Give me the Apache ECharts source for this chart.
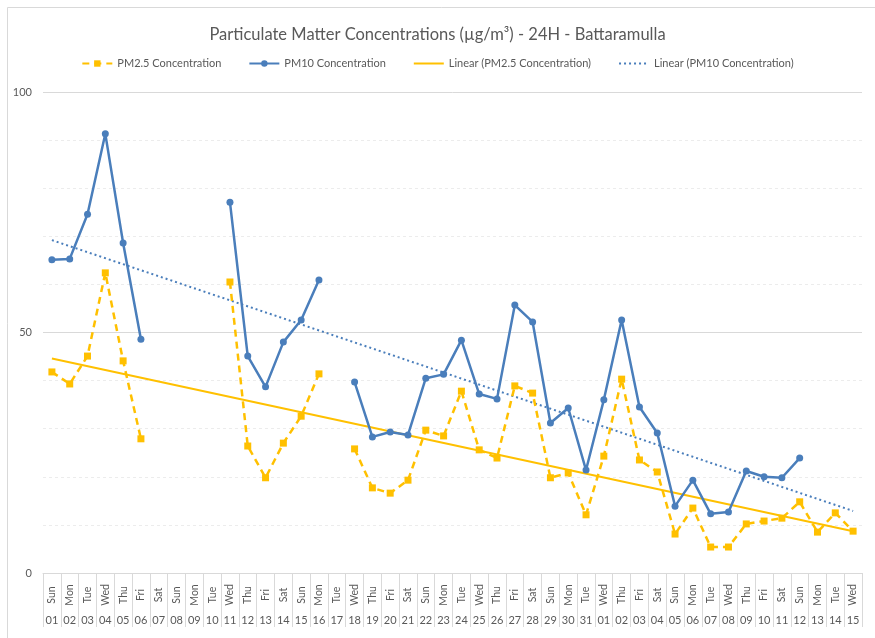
<!DOCTYPE html>
<html>
<head>
<meta charset="utf-8">
<script src="https://cdn.jsdelivr.net/npm/echarts@6/dist/echarts.min.js"></script>
<style>
    html, body { margin: 0; padding: 0; background: #fff; }
    #chart { width: 875px; height: 638px; }
</style>
</head>
<body>
<div id="chart"></div>
<script>
    // x categories: weekday row + date row
    var days = ['Sun', 'Mon', 'Tue', 'Wed', 'Thu', 'Fri', 'Sat', 'Sun', 'Mon', 'Tue', 'Wed', 'Thu', 'Fri', 'Sat',
        'Sun', 'Mon', 'Tue', 'Wed', 'Thu', 'Fri', 'Sat', 'Sun', 'Mon', 'Tue', 'Wed', 'Thu', 'Fri', 'Sat',
        'Sun', 'Mon', 'Tue', 'Wed', 'Thu', 'Fri', 'Sat', 'Sun', 'Mon', 'Tue', 'Wed', 'Thu', 'Fri', 'Sat',
        'Sun', 'Mon', 'Tue', 'Wed'];
    var dates = ['01', '02', '03', '04', '05', '06', '07', '08', '09', '10', '11', '12', '13', '14', '15', '16',
        '17', '18', '19', '20', '21', '22', '23', '24', '25', '26', '27', '28', '29', '30', '31',
        '01', '02', '03', '04', '05', '06', '07', '08', '09', '10', '11', '12', '13', '14', '15'];

    var pm25 = [41.8, 39.3, 45.1, 62.4, 44.1, 27.9, '-', '-', '-', '-', 60.5, 26.4, 19.8, 27.0, 32.6, 41.4,
        '-', 25.8, 17.7, 16.6, 19.3, 29.7, 28.5, 37.8, 25.6, 23.9, 38.9, 37.4, 19.8, 20.8, 12.1,
        24.3, 40.3, 23.5, 21.0, 8.1, 13.5, 5.4, 5.4, 10.2, 10.8, 11.4, 14.8, 8.5, 12.5, 8.7];
    var pm10 = [65.1, 65.3, 74.6, 91.3, 68.6, 48.6, '-', '-', '-', '-', 77.1, 45.1, 38.7, 48.0, 52.6, 60.9,
        '-', 39.7, 28.3, 29.3, 28.7, 40.5, 41.3, 48.4, 37.2, 36.2, 55.7, 52.2, 31.2, 34.3, 21.4,
        36.0, 52.6, 34.5, 29.1, 13.9, 19.3, 12.3, 12.7, 21.2, 20.0, 19.8, 23.9, '-', '-', '-'];

    // trendline ends: [first category, last category]
    var pm25Trend = [44.6, 8.7];
    var pm10Trend = [69.2, 12.9];

    var yTicks = [0, 50, 100];

    var yellow = '#FFC000';
    var blue = '#4A7EBB';
    var font = 'Lato';

    var myChart = echarts.init(document.getElementById('chart'));
    var last = days.length - 1;

    var option = {
        backgroundColor: '#fff',
        textStyle: { fontFamily: font },
        title: {
            text: 'Particulate Matter Concentrations (µg/m³) - 24H - Battaramulla',
            left: 'center',
            top: 21,
            textStyle: { fontFamily: font, fontSize: 16.5, fontWeight: 'normal', color: '#595959' }
        },
        legend: {
            top: 53,
            left: 'center',
            itemWidth: 30,
            itemHeight: 8,
            itemGap: 27,
            textStyle: { fontFamily: font, fontSize: 11, color: '#595959' },
            data: ['PM2.5 Concentration', 'PM10 Concentration', 'Linear (PM2.5 Concentration)', 'Linear (PM10 Concentration)']
        },
        graphic: [{
            type: 'rect',
            shape: { x: 7.5, y: 7.5, width: 900, height: 700 },
            style: { fill: 'none', stroke: '#d9d9d9', lineWidth: 1 },
            silent: true,
            z: -1
        }],
        grid: { left: 43, right: 13, top: 92, bottom: 65 },
        xAxis: [
            {
                type: 'category',
                data: days,
                boundaryGap: true,
                axisLine: { lineStyle: { color: '#d9d9d9' } },
                axisTick: { show: true, interval: 0, length: 54, lineStyle: { color: '#d9d9d9' } },
                axisLabel: {
                    interval: 0,
                    rotate: 90,
                    align: 'center',
                    verticalAlign: 'middle',
                    margin: 22,
                    fontSize: 10.5,
                    color: '#595959'
                }
            },
            {
                type: 'category',
                data: dates,
                position: 'bottom',
                boundaryGap: true,
                axisLine: { show: false },
                axisTick: { show: false },
                axisLabel: { interval: 0, margin: 42, fontSize: 11, color: '#595959' }
            }
        ],
        yAxis: {
            type: 'value',
            min: yTicks[0],
            max: yTicks[yTicks.length - 1],
            interval: 50,
            axisLine: { show: false },
            axisTick: { show: false },
            axisLabel: { fontSize: 11, color: '#595959', margin: 11 },
            splitLine: { show: true, lineStyle: { color: '#d9d9d9', width: 1 } },
            minorTick: { show: false, splitNumber: 5 },
            minorSplitLine: { show: true, lineStyle: { color: '#ececec', type: [3, 3], width: 1 } }
        },
        series: [
            {
                name: 'PM2.5 Concentration',
                type: 'line',
                data: pm25,
                connectNulls: false,
                symbol: 'rect',
                symbolSize: 7,
                itemStyle: { color: yellow },
                lineStyle: { color: yellow, width: 2.5, type: [7, 5] },
                z: 3
            },
            {
                name: 'PM10 Concentration',
                type: 'line',
                data: pm10,
                connectNulls: false,
                symbol: 'circle',
                symbolSize: 7,
                itemStyle: { color: blue },
                lineStyle: { color: blue, width: 2.5 },
                z: 4
            },
            {
                name: 'Linear (PM2.5 Concentration)',
                type: 'line',
                data: [[0, pm25Trend[0]], [last, pm25Trend[1]]],
                symbol: 'none',
                itemStyle: { color: yellow, opacity: 0 },
                lineStyle: { color: yellow, width: 2, opacity: 1 },
                z: 2
            },
            {
                name: 'Linear (PM10 Concentration)',
                type: 'line',
                data: [[0, pm10Trend[0]], [last, pm10Trend[1]]],
                symbol: 'none',
                itemStyle: { color: blue, opacity: 0 },
                lineStyle: { color: blue, width: 2, type: [2, 3], opacity: 1 },
                z: 2
            }
        ]
    };
    myChart.setOption(option);
</script>
</body>
</html>
